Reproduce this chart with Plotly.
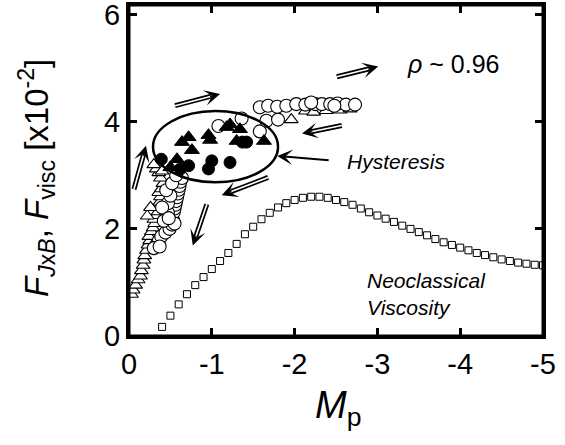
import plotly.graph_objects as go

# ---------------- data ----------------
neo_x = [-0.4, -0.5, -0.6, -0.7, -0.8, -0.9, -1.0, -1.1, -1.2, -1.3, -1.4, -1.5, -1.6, -1.7,
         -1.8, -1.9, -2.0, -2.1, -2.2, -2.3, -2.4, -2.5, -2.6, -2.7, -2.8, -2.9, -3.0, -3.1,
         -3.2, -3.3, -3.4, -3.5, -3.6, -3.7, -3.8, -3.9, -4.0, -4.1, -4.2, -4.3, -4.4, -4.5,
         -4.6, -4.7, -4.8, -4.9, -5.0]
neo_y = [0.17, 0.38, 0.59, 0.78, 0.95, 1.10, 1.25, 1.40, 1.55, 1.72, 1.90, 2.04, 2.18, 2.30,
         2.40, 2.48, 2.54, 2.58, 2.60, 2.60, 2.58, 2.54, 2.50, 2.45, 2.38, 2.31, 2.25, 2.19,
         2.13, 2.06, 2.00, 1.94, 1.88, 1.81, 1.75, 1.70, 1.65, 1.60, 1.55, 1.51, 1.47, 1.43,
         1.40, 1.37, 1.35, 1.33, 1.32]

open_tri_x = [-0.03, -0.05, -0.08, -0.11, -0.14, -0.15, -0.17, -0.18, -0.19, -0.21, -0.23,
              -0.25, -0.24, -0.27, -0.29, -0.31, -0.30, -0.33, -0.35, -0.34, -0.37, -0.38,
              -0.36, -0.39, -0.41, -0.38, -0.36, -0.33, -0.30, -0.40, -0.22, -0.26,
              -1.96, -2.13, -2.23, -2.38, -2.55, -2.67]
open_tri_y = [0.78, 0.86, 0.95, 1.05, 1.12, 1.22, 1.32, 1.42, 1.50, 1.60, 1.70,
              1.78, 1.86, 1.95, 2.02, 2.10, 2.18, 2.25, 2.32, 2.42, 2.50, 2.60,
              2.68, 2.75, 2.85, 2.95, 3.05, 3.12, 3.20, 3.08, 2.24, 2.40,
              4.04, 4.20, 4.18, 4.21, 4.22, 4.24]

open_cir_x = [-0.33, -0.36, -0.39, -0.44, -0.49, -0.52, -0.53, -0.52, -0.54, -0.55, -0.56,
              -0.57, -0.58, -0.59, -0.60, -0.61, -0.62, -0.64, -0.47, -0.47, -0.50, -0.45,
              -0.52, -0.57, -0.42, -0.55, -0.40, -0.48, -0.30, -0.37,
              -1.08, -1.36, -1.58, -1.66, -1.80, -1.58, -1.68, -1.79, -1.90, -2.02, -2.13,
              -2.25, -2.33, -2.43, -2.52, -2.62, -2.73, -2.20, -2.48]
open_cir_y = [1.70, 1.78, 1.86, 1.93, 2.00, 2.08, 2.16, 2.24, 2.31, 2.38, 2.45,
              2.52, 2.59, 2.66, 2.73, 2.80, 2.88, 2.95, 2.30, 2.48, 2.62, 2.72,
              2.85, 3.00, 2.15, 2.10, 2.40, 2.20, 1.64, 1.67,
              3.92, 4.06, 3.82, 4.02, 4.04, 4.27, 4.30, 4.28, 4.30, 4.33, 4.32,
              4.33, 4.33, 4.33, 4.34, 4.32, 4.32, 4.36, 4.30]

fill_tri_x = [-0.64, -0.72, -0.76, -0.96, -0.98, -1.18, -1.22, -1.34, -1.30, -1.63, -0.58, -0.50]
fill_tri_y = [3.62, 3.71, 3.47, 3.75, 3.66, 3.90, 3.95, 3.86, 3.64, 3.64, 3.30, 3.15]

fill_cir_x = [-0.39, -0.62, -0.72, -0.96, -1.00, -1.22, -1.42, -1.37]
fill_cir_y = [3.30, 3.12, 3.18, 3.12, 3.27, 3.24, 3.62, 3.62]

x_ticks = [0, -1, -2, -3, -4, -5]
x_tick_labels = ["0", "-1", "-2", "-3", "-4", "-5"]
y_ticks = [0, 2, 4, 6]
y_tick_labels = ["0", "2", "4", "6"]

# hollow (double-shaft) arrows: tail x, tail y, tip x, tip y
double_arrows = [
    (-0.556, 4.30, -1.10, 4.52),
    (-2.51, 4.84, -3.01, 5.03),
    (-2.57, 3.93, -2.09, 3.78),
    (-1.68, 2.96, -1.12, 2.63),
    (-0.06, 2.74, -0.205, 3.55),
    (-0.94, 2.46, -0.77, 1.69),
]
hyst_arrow = (-2.43, 3.28, -1.79, 3.36)
ellipse = (-0.29, 2.87, -1.80, 4.20)

# ---------------- figure ----------------
FONT = "Liberation Sans, Arial, sans-serif"
XR = [0, -5]
YR = [0, 6.18]
L, R, T, B = 129, 22, 5, 109
W, H = 565, 445
pxx = (W - L - R) / abs(XR[1] - XR[0])
pxy = (H - T - B) / (YR[1] - YR[0])

fig = go.Figure()
fig.add_trace(go.Scatter(x=neo_x, y=neo_y, mode="markers",
                         marker=dict(symbol="square", size=7, color="white",
                                     line=dict(color="black", width=1))))
fig.add_trace(go.Scatter(x=open_tri_x, y=open_tri_y, mode="markers",
                         marker=dict(symbol="triangle-up", size=12, color="white",
                                     line=dict(color="black", width=1.1))))
fig.add_trace(go.Scatter(x=open_cir_x, y=open_cir_y, mode="markers",
                         marker=dict(symbol="circle", size=13, color="white",
                                     line=dict(color="black", width=1.1))))
fig.add_trace(go.Scatter(x=fill_tri_x, y=fill_tri_y, mode="markers",
                         marker=dict(symbol="triangle-up", size=13, color="black",
                                     line=dict(color="black", width=1))))
fig.add_trace(go.Scatter(x=fill_cir_x, y=fill_cir_y, mode="markers",
                         marker=dict(symbol="circle", size=12, color="black",
                                     line=dict(color="black", width=1))))

shapes = [dict(type="circle", xref="x", yref="y", x0=ellipse[0], y0=ellipse[1],
               x1=ellipse[2], y1=ellipse[3], line=dict(color="black", width=2.5),
               layer="above"),
          dict(type="rect", xref="paper", yref="paper", x0=0, y0=0, x1=1, y1=1,
               line=dict(color="black", width=3), layer="above")]
annotations = []
for (tx, ty, hx, hy) in double_arrows:
    dxp = (tx - hx) * pxx
    dyp = (ty - hy) * pxy
    lenp = (dxp ** 2 + dyp ** 2) ** 0.5
    f1 = 8.0 / lenp
    bx, by = hx + (tx - hx) * f1, hy + (ty - hy) * f1
    for wdt, col in ((5, "black"), (1.6, "white")):
        shapes.append(dict(type="line", xref="x", yref="y", x0=tx, y0=ty, x1=bx, y1=by,
                           line=dict(color=col, width=wdt), layer="above"))
    f2 = 12.0 / lenp
    annotations.append(dict(x=hx, y=hy, ax=hx + (tx - hx) * f2, ay=hy + (ty - hy) * f2,
                            xref="x", yref="y", axref="x", ayref="y", text="",
                            showarrow=True, arrowhead=3, arrowwidth=1.2, arrowsize=2.2,
                            arrowcolor="black"))
tx, ty, hx, hy = hyst_arrow
annotations.append(dict(x=hx, y=hy, ax=tx, ay=ty, xref="x", yref="y", axref="x", ayref="y",
                        text="", showarrow=True, arrowhead=3, arrowwidth=2, arrowsize=1.3,
                        arrowcolor="black"))
annotations += [
    dict(x=-3.33, y=5.07, xref="x", yref="y", text="<i>ρ</i> ~ 0.96", showarrow=False,
         xanchor="left", yanchor="middle", font=dict(family=FONT, size=25, color="black")),
    dict(x=-2.61, y=3.25, xref="x", yref="y", text="<i>Hysteresis</i>", showarrow=False,
         xanchor="left", yanchor="middle", font=dict(family=FONT, size=21, color="black")),
    dict(x=-2.85, y=0.79, xref="x", yref="y", text="<i>Neoclassical<br>Viscosity</i>",
         showarrow=False, xanchor="left", yanchor="middle", align="left",
         font=dict(family=FONT, size=21, color="black")),
    dict(x=338, y=H - 408, xref="paper", yref="paper", text="<i>M</i><sub>p</sub>",
         showarrow=False, font=dict(family=FONT, size=38, color="black")),
    dict(x=36, y=H - 178, xref="paper", yref="paper",
         text="<i>F</i><sub><i>J</i>x<i>B</i></sub>, <i>F</i><sub>visc</sub> [x10<sup>-2</sup>]",
         showarrow=False, textangle=-90, font=dict(family=FONT, size=33, color="black")),
]
# convert pixel-placed title annotations to paper fractions
for a in annotations:
    if a.get("xref") == "paper":
        a["x"] = (a["x"] - L) / (W - L - R)
        a["y"] = (a["y"] - B) / (H - T - B)
        a["xanchor"] = "center"
        a["yanchor"] = "middle"

axis_common = dict(showline=True, linecolor="black", linewidth=3, mirror="ticks",
                   ticks="inside", ticklen=8, tickwidth=3, tickcolor="black",
                   showgrid=False, zeroline=False, automargin=False,
                   ticklabeloverflow="allow",
                   tickfont=dict(family=FONT, size=29, color="black"))
fig.update_xaxes(range=XR, tickvals=x_ticks, ticktext=x_tick_labels, **axis_common)
fig.update_yaxes(range=YR, tickvals=y_ticks, ticktext=y_tick_labels, **axis_common)
fig.update_layout(width=W, height=H, margin=dict(l=L, r=R, t=T, b=B),
                  plot_bgcolor="white", paper_bgcolor="white", showlegend=False,
                  shapes=shapes, annotations=annotations,
                  font=dict(family=FONT, color="black"))
fig.write_html("out.html", config={"displayModeBar": False},
               post_script="document.body.style.margin='0';document.body.style.overflow='hidden';")
